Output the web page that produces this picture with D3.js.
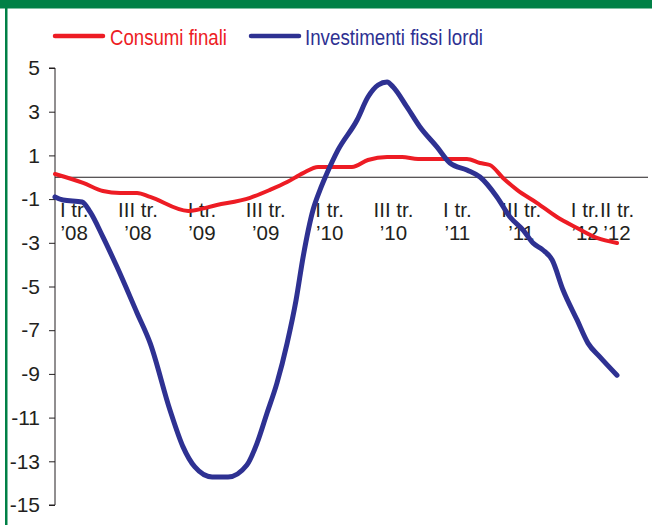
<!DOCTYPE html>
<html><head><meta charset="utf-8">
<script src="https://cdn.jsdelivr.net/npm/d3@7"></script>
<style>body{margin:0;background:#fff}svg{display:block}</style>
</head><body><svg id="c" width="652" height="525"></svg>
<script>
// ---- data (quarter index: 0 = I tr. 2008) ----
const seriesNames = ["Consumi finali", "Investimenti fissi lordi"];
const consumiPos = [-0.6, 0.28, 0.90, 1.44, 1.97, 2.38, 3.57, 4.47, 5.51, 6.13, 6.67, 7.17, 7.64, 8.70, 9.20, 9.80, 10.27, 10.77, 12.30, 12.71, 13.02, 13.43, 13.87, 14.50, 15.12, 15.75, 16.37, 17.0];
const consumiVal = [0.15, -0.26, -0.63, -0.72, -0.72, -0.90, -1.54, -1.27, -0.94, -0.58, -0.22, 0.19, 0.47, 0.47, 0.79, 0.93, 0.93, 0.84, 0.84, 0.65, 0.56, -0.03, -0.58, -1.18, -1.82, -2.32, -2.78, -3.01];
const investPos = [-0.6, -0.35, 0.25, 0.50, 0.90, 1.34, 1.97, 2.38, 3.00, 3.41, 3.78, 4.32, 4.82, 5.41, 5.73, 6.04, 6.35, 6.67, 6.95, 7.17, 7.48, 7.70, 7.92, 8.26, 8.86, 9.20, 9.52, 9.80, 9.99, 10.42, 10.83, 11.36, 11.77, 12.30, 12.71, 13.24, 13.65, 14.06, 14.37, 14.68, 14.97, 15.31, 15.75, 16.09, 16.47, 17.0];
const investVal = [-0.90, -1.04, -1.13, -1.59, -2.73, -4.10, -6.21, -7.59, -10.65, -12.34, -13.26, -13.72, -13.72, -13.17, -12.16, -10.79, -9.42, -7.59, -5.62, -3.65, -1.50, -0.58, 0.19, 1.24, 2.62, 3.67, 4.22, 4.36, 4.13, 3.22, 2.30, 1.39, 0.65, 0.33, 0.01, -0.90, -1.82, -2.42, -3.01, -3.33, -3.79, -5.16, -6.53, -7.59, -8.23, -9.06];
const xTickPos = [0, 2, 4, 6, 8, 10, 12, 14, 16, 17];
const xTickLine1 = ["I tr.", "III tr.", "I tr.", "III tr.", "I tr.", "III tr.", "I tr.", "III tr.", "I tr.", "II tr."];
const xTickLine2 = ["\u201908", "\u201908", "\u201909", "\u201909", "\u201910", "\u201910", "\u201911", "\u201911", "\u201912", "\u201912"];
const yTicks = [5, 3, 1, -1, -3, -5, -7, -9, -11, -13, -15];

const colors = ["#ED1C24", "#2E3192"];
const svg = d3.select("#c");
const font = "'Liberation Sans', Arial, Helvetica, sans-serif";
const textCol = "#231F20";

const x = d3.scaleLinear().domain([-0.6, 17]).range([55, 617]);
const y = d3.scaleLinear().domain([-15, 5]).range([505, 68]);

// frame
svg.append("rect").attr("x", 0).attr("y", 0).attr("width", 652).attr("height", 8.5).attr("fill", "#008046");
svg.append("rect").attr("x", 5).attr("y", 0).attr("width", 2.5).attr("height", 525).attr("fill", "#008046");

// y axis
const yAxis = svg.append("g").attr("transform", "translate(55,0)")
  .call(d3.axisLeft(y).tickValues(yTicks).tickSize(6).tickPadding(9).tickFormat(d3.format("d")));
yAxis.select(".domain").attr("stroke", textCol).attr("d", "M-6," + y(5) + "H0V" + y(-15) + "H-6");
yAxis.selectAll(".tick line").attr("stroke", textCol);
yAxis.selectAll(".tick text").attr("fill", textCol).style("font-family", font).style("font-size", "21px")
  .text(d => d < 0 ? "-" + Math.abs(d) : d);

// zero line
svg.append("line").attr("x1", 55).attr("x2", 648).attr("y1", y(0)).attr("y2", y(0))
  .attr("stroke", textCol).attr("stroke-width", 1);

// x labels
const xl = svg.append("g").style("font-family", font).style("font-size", "20.5px").attr("fill", textCol).attr("text-anchor", "middle");
xTickPos.forEach((p, i) => {
  xl.append("text").attr("x", x(p)).attr("y", 217).text(xTickLine1[i]);
  xl.append("text").attr("x", x(p)).attr("y", 240).text(xTickLine2[i]);
});

// lines
const line = d3.line().x(d => x(d[0])).y(d => y(d[1])).curve(d3.curveMonotoneX);
const cons = consumiPos.map((p, i) => [p, consumiVal[i]]);
const inv = investPos.map((p, i) => [p, investVal[i]]);
svg.append("path").attr("d", line(cons)).attr("fill", "none").attr("stroke", colors[0]).attr("stroke-width", 4).attr("stroke-linejoin", "round").attr("stroke-linecap", "round");
svg.append("path").attr("d", line(inv)).attr("fill", "none").attr("stroke", colors[1]).attr("stroke-width", 5).attr("stroke-linejoin", "round").attr("stroke-linecap", "round");

// legend
const leg = [{x1: 55, x2: 103, tx: 110, w: 117}, {x1: 251, x2: 299, tx: 305, w: 178}];
leg.forEach((l, i) => {
  svg.append("line").attr("x1", l.x1).attr("x2", l.x2).attr("y1", 36).attr("y2", 36)
    .attr("stroke", colors[i]).attr("stroke-width", 4.5).attr("stroke-linecap", "round");
  svg.append("text").attr("x", l.tx).attr("y", 45).attr("fill", colors[i])
    .style("font-family", font).style("font-size", "22px")
    .attr("textLength", l.w).attr("lengthAdjust", "spacingAndGlyphs").text(seriesNames[i]);
});
</script>
</body></html>
